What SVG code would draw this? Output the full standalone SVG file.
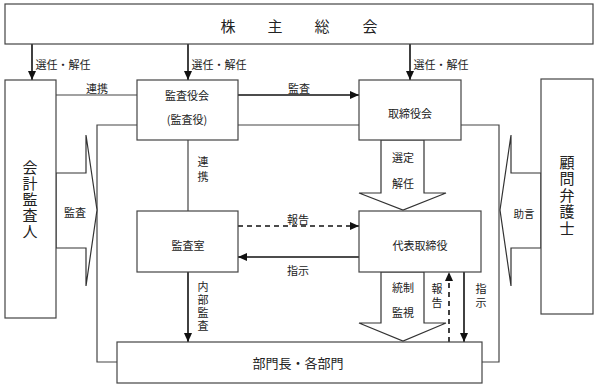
<svg xmlns="http://www.w3.org/2000/svg" width="599" height="389" viewBox="0 0 599 389">
<style>
.box{fill:#fff;stroke:#444;stroke-width:1.2}
.ln{fill:none;stroke:#444;stroke-width:1.2}
.ar{fill:none;stroke:#111;stroke-width:1.6}
.ds{fill:none;stroke:#111;stroke-width:1.6;stroke-dasharray:5 4}
.blk{fill:#fff;stroke:#333;stroke-width:1.2}
text{font-family:"Noto Sans CJK JP","Noto Sans CJK SC",sans-serif;fill:#222;font-size:11px;text-anchor:middle;dominant-baseline:central}
.big{font-size:15px}
.mid{font-size:13px}
.v{writing-mode:vertical-rl;text-orientation:upright}
</style>
<defs>
<marker id="ah" markerUnits="userSpaceOnUse" markerWidth="10" markerHeight="10" refX="9" refY="5" orient="auto">
<path d="M0,1 L9,5 L0,9 Z" fill="#111"/>
</marker>
</defs>
<g id="connectors">
<polyline class="ln" points="117,362 97,362 97,125 499,125 499,362 482,362"/>
<line class="ln" x1="56" y1="95" x2="137" y2="95"/>
<line class="ln" x1="188" y1="140" x2="188" y2="211"/>
<line class="ar" x1="32" y1="44" x2="32" y2="80" marker-end="url(#ah)"/>
<line class="ar" x1="188" y1="44" x2="188" y2="80" marker-end="url(#ah)"/>
<line class="ar" x1="410" y1="44" x2="410" y2="80" marker-end="url(#ah)"/>
<line class="ar" x1="238" y1="95" x2="359" y2="95" marker-end="url(#ah)"/>
<line class="ds" x1="238" y1="226" x2="359" y2="226" marker-end="url(#ah)"/>
<line class="ar" x1="359" y1="257" x2="238" y2="257" marker-end="url(#ah)"/>
<line class="ar" x1="188" y1="272" x2="188" y2="342" marker-end="url(#ah)"/>
<line class="ds" x1="449" y1="342" x2="449" y2="272" marker-end="url(#ah)"/>
<line class="ar" x1="464" y1="272" x2="464" y2="342" marker-end="url(#ah)"/>
<polygon class="blk" points="56,173 86,173 86,135 97,210 86,286 86,248 56,248"/>
<polygon class="blk" points="541,173 511,173 511,135 500,210 511,286 511,248 541,248"/>
<polygon class="blk" points="381,140 424,140 424,193 446,193 403,210 359,193 381,193"/>
<polygon class="blk" points="381,272 424,272 424,323 446,323 403,341 359,323 381,323"/>
<text x="63" y="64">選任・解任</text>
<text x="219" y="64">選任・解任</text>
<text x="441" y="64">選任・解任</text>
<text x="97" y="88">連携</text>
<text x="299" y="88">監査</text>
<text class="v" x="203" y="171" style="letter-spacing:4px">連携</text>
<text x="75" y="212">監査</text>
<text x="524" y="213" style="font-size:10.5px">助言</text>
<text x="403" y="157">選定</text>
<text x="403" y="183">解任</text>
<text x="298" y="219">報告</text>
<text x="298" y="270">指示</text>
<text x="403" y="287">統制</text>
<text x="403" y="312">監視</text>
<text class="v" x="437" y="297" style="letter-spacing:3px">報告</text>
<text class="v" x="481" y="297" style="letter-spacing:3px">指示</text>
<text class="v" x="203" y="307" style="letter-spacing:2px">内部監査</text>
</g>
<g id="shareholders">
<rect class="box" x="5" y="4" width="588" height="40"/>
<text class="big" x="228 275 322 370" y="25">株主総会</text>
</g>
<g id="auditor">
<rect class="box" x="5" y="80" width="51" height="238"/>
<text class="big v" x="30" y="200" style="letter-spacing:1px">会計監査人</text>
</g>
<g id="audit-board">
<rect class="box" x="137" y="80" width="101" height="60"/>
<text x="187" y="95">監査役会</text>
<text x="187" y="119">(監査役)</text>
</g>
<g id="board">
<rect class="box" x="359" y="80" width="102" height="60"/>
<text x="410" y="113">取締役会</text>
</g>
<g id="lawyer">
<rect class="box" x="541" y="79" width="52" height="235"/>
<text class="big v" x="567" y="196" style="letter-spacing:1.5px">顧問弁護士</text>
</g>
<g id="audit-office">
<rect class="box" x="137" y="211" width="101" height="61"/>
<text x="188" y="245">監査室</text>
</g>
<g id="ceo">
<rect class="box" x="359" y="211" width="122" height="61"/>
<text x="420" y="245">代表取締役</text>
</g>
<g id="departments">
<rect class="box" x="117" y="342" width="365" height="41"/>
<text class="mid" x="298" y="362">部門長・各部門</text>
</g>
</svg>
